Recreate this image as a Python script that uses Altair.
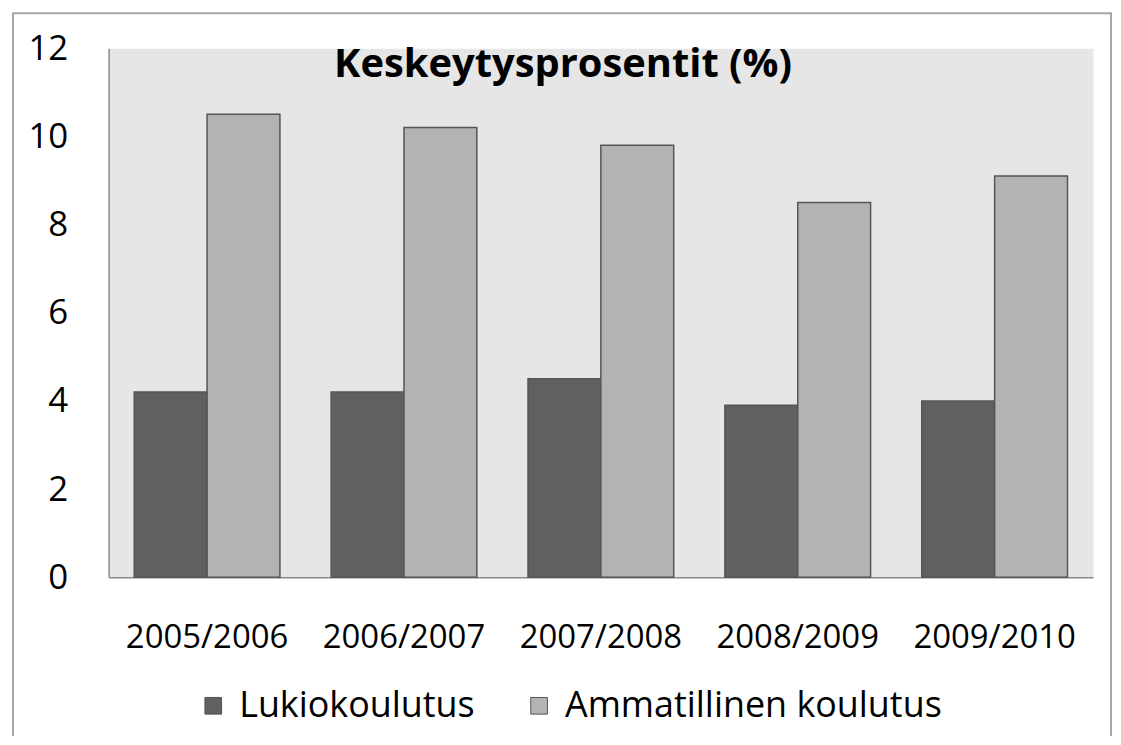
import altair as alt
import pandas as pd

years = ["2005/2006", "2006/2007", "2007/2008", "2008/2009", "2009/2010"]
series_names = ["Lukiokoulutus", "Ammatillinen koulutus"]
lukio = [4.2, 4.2, 4.5, 3.9, 4.0]
ammatillinen = [10.5, 10.2, 9.8, 8.5, 9.1]
y_ticks = [0, 2, 4, 6, 8, 10, 12]
colors = ["#606060", "#b3b3b3"]
title_text = "Keskeytysprosentit (%)"

rows = []
for i, yr in enumerate(years):
    rows.append({"year": yr, "series": series_names[0], "value": lukio[i]})
    rows.append({"year": yr, "series": series_names[1], "value": ammatillinen[i]})
df = pd.DataFrame(rows)

FONT = "Open Sans"

bars = alt.Chart(df).mark_bar(stroke="#555555", strokeWidth=1.5).encode(
    x=alt.X(
        "year:N",
        sort=years,
        scale=alt.Scale(paddingInner=0.26, paddingOuter=0.13),
        axis=alt.Axis(
            title=None, labelAngle=0, ticks=False, domainColor="#8a8a8a",
            domainWidth=1.5, labelFont=FONT, labelFontSize=33, labelColor="#000000",
            labelPadding=44,
        ),
    ),
    xOffset=alt.XOffset(
        "series:N", sort=series_names, scale=alt.Scale(paddingInner=0, paddingOuter=0)
    ),
    y=alt.Y(
        "value:Q",
        scale=alt.Scale(domain=[0, 12], nice=False),
        axis=alt.Axis(
            title=None, values=y_ticks, grid=False, ticks=False, domainColor="#8a8a8a",
            domainWidth=1.5, labelFont=FONT, labelFontSize=35, labelColor="#000000",
            labelPadding=41,
        ),
    ),
    color=alt.Color(
        "series:N",
        scale=alt.Scale(domain=series_names, range=colors),
        legend=alt.Legend(
            title=None, orient="none", direction="horizontal", legendX=87, legendY=642,
            symbolType="square", symbolSize=280, symbolStrokeColor="#555555",
            symbolStrokeWidth=1, labelFont=FONT, labelFontSize=36, labelColor="#000000",
            labelOffset=8, columnPadding=46, padding=0, labelLimit=600,
        ),
    ),
)

border = alt.Chart(pd.DataFrame({"a": [0]})).mark_rect(
    filled=False, stroke="#a6a6a6", strokeWidth=2
).encode(
    x=alt.value(-96), x2=alt.value(1006), y=alt.value(-35), y2=alt.value(720)
)

title = alt.Chart(pd.DataFrame({"t": [title_text]})).mark_text(
    font=FONT, fontSize=40, fontWeight="bold", color="#000000",
    align="center", baseline="middle",
).encode(text="t:N", x=alt.value(456), y=alt.value(17))

chart = alt.layer(border, bars, title).properties(
    width=988,
    height=531,
    autosize=alt.AutoSizeParams(type="none"),
    padding={"left": 101, "top": 39, "right": 20, "bottom": 158},
).configure_view(fill="#e6e6e6", stroke="transparent")

chart.save("out.html", embed_options={"renderer": "svg", "actions": False})
